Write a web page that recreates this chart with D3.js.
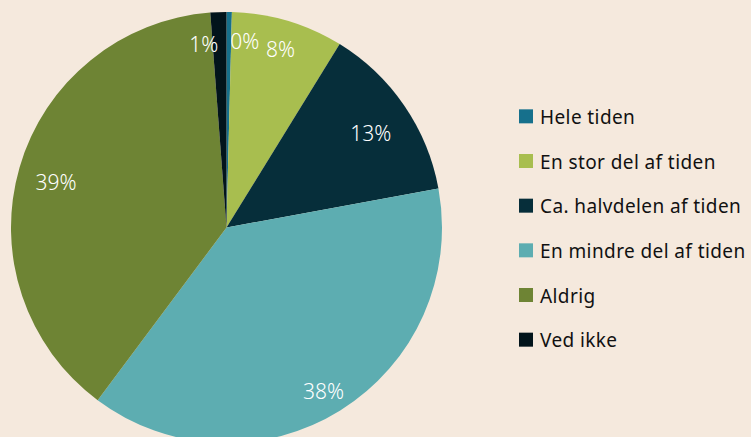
<!DOCTYPE html>
<html>
<head>
<meta charset="utf-8">
<script src="https://cdn.jsdelivr.net/npm/d3@7"></script>
<style>
  html, body { margin: 0; padding: 0; background: #f5e9dd; }
  svg { display: block; font-family: "Noto Sans", "Open Sans", sans-serif; }
</style>
</head>
<body>
<div id="chart"></div>
<script>
// values (percent)
const categories = ["Hele tiden", "En stor del af tiden", "Ca. halvdelen af tiden", "En mindre del af tiden", "Aldrig", "Ved ikke"]
const values = [0.4, 8.4, 13.3, 38.1, 38.6, 1.2]
const labels = ["0%", "8%", "13%", "38%", "39%", "1%"]
const colors = ["#16708c", "#a8be4f", "#062e3a", "#5dadb1", "#6e8434", "#02141b"]
// small nudges so the labels sit where the original put them
const labelNudge = [[16, -7], [3, -6], [2, 3], [6, 18], [-5, 3], [-16, -4]]

let w = 751
let h = 437
let cx = 226.5
let cy = 227.5
let r = 215.5

let svg = d3.select("#chart")
    .append("svg")
    .attr("width", w)
    .attr("height", h)

let data = categories.map((c, i) => ({ name: c, value: values[i], label: labels[i], i: i }))

let pie = d3.pie()
    .sort(null)
    .value(d => d.value)

let arc = d3.arc()
    .innerRadius(0)
    .outerRadius(r)

let labelArc = d3.arc()
    .innerRadius(r * 0.8)
    .outerRadius(r * 0.8)

let smallArc = d3.arc()
    .innerRadius(r * 0.83)
    .outerRadius(r * 0.83)

let g = svg.append("g")
    .attr("transform", "translate(" + cx + "," + cy + ")")

let arcs = pie(data)

g.selectAll("path")
    .data(arcs)
    .enter()
    .append("path")
    .attr("d", arc)
    .attr("fill", d => colors[d.data.i])

// percent labels
g.selectAll("text")
    .data(arcs)
    .enter()
    .append("text")
    .attr("transform", d => {
        let c = (d.data.value < 10 ? smallArc : labelArc).centroid(d)
        let n = labelNudge[d.data.i]
        return "translate(" + (c[0] + n[0]) + "," + (c[1] + n[1]) + ")"
    })
    .attr("text-anchor", "middle")
    .attr("dy", "0.35em")
    .attr("fill", "#ffffff")
    .style("font-size", "21px")
    .style("font-weight", "300")
    .text(d => d.data.label)

// legend
let y = d3.scaleBand()
    .domain(categories)
    .range([95, 363])

let legend = svg.append("g")
    .attr("transform", "translate(519,0)")

let items = legend.selectAll("g")
    .data(data)
    .enter()
    .append("g")
    .attr("transform", d => "translate(0," + (y(d.name) + y.bandwidth() / 2) + ")")

items.append("rect")
    .attr("x", 0)
    .attr("y", -8)
    .attr("width", 14)
    .attr("height", 14)
    .attr("fill", d => colors[d.i])

items.append("text")
    .attr("x", 21)
    .attr("y", 0)
    .attr("dy", "0.35em")
    .attr("fill", "#111111")
    .style("font-size", "19px")
    .style("letter-spacing", "0.4px")
    .text(d => d.name)
</script>
</body>
</html>
